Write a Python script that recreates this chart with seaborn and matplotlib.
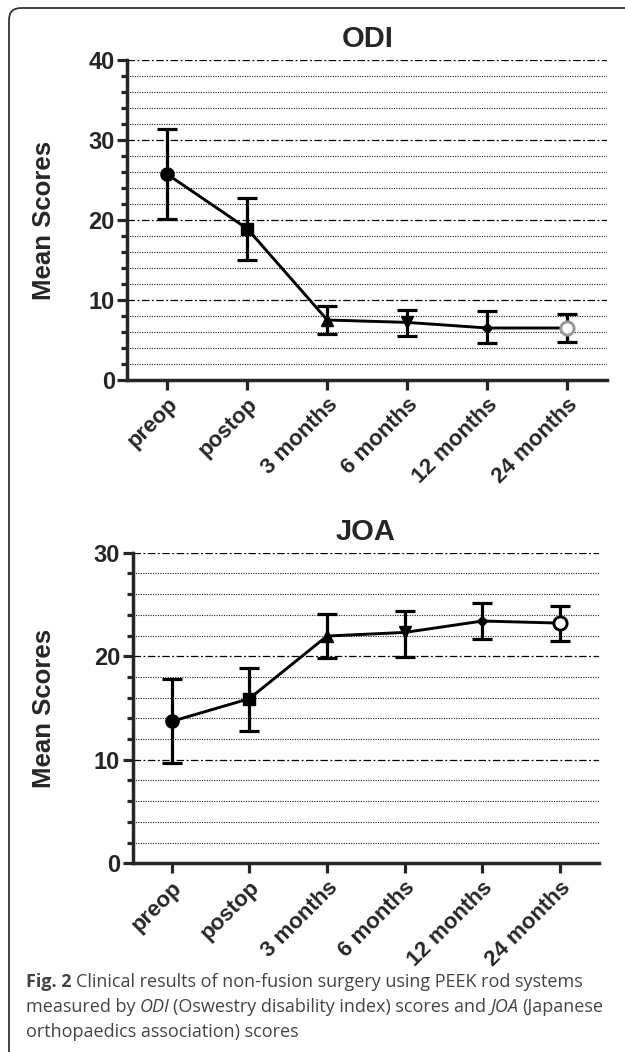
import matplotlib
matplotlib.use("Agg")
import matplotlib.pyplot as plt
from matplotlib.patches import FancyBboxPatch
from matplotlib.transforms import IdentityTransform
from matplotlib.ticker import MultipleLocator
import pandas as pd
import seaborn as sns

TIMEPOINTS = ["preop", "postop", "3 months", "6 months", "12 months", "24 months"]
MARKERS = ["o", "s", "^", "v", "D", "o"]

# mean and error bar ends
ODI_MEAN = [25.7, 18.9, 7.5, 7.2, 6.5, 6.5]
ODI_UPPER = [31.4, 22.8, 9.3, 8.8, 8.6, 8.2]
ODI_LOWER = [20.1, 15.0, 5.8, 5.5, 4.6, 4.8]

JOA_MEAN = [13.7, 15.9, 21.95, 22.3, 23.4, 23.2]
JOA_UPPER = [17.8, 18.9, 24.1, 24.4, 25.1, 24.9]
JOA_LOWER = [9.7, 12.8, 19.8, 19.9, 21.7, 21.5]

W, H = 625, 1052

sns.set_style("ticks")
plt.rcParams["font.family"] = ["Liberation Sans", "DejaVu Sans"]


def draw_panel(ax, title, mean, lower, upper, ymax, last_edge):
    df = pd.DataFrame({"x": range(len(TIMEPOINTS)), "mean": mean,
                       "lower": lower, "upper": upper})
    yerr = [df["mean"] - df["lower"], df["upper"] - df["mean"]]
    ax.errorbar(df["x"], df["mean"], yerr=yerr, fmt="none", ecolor="black",
                elinewidth=2.3, capsize=7.5, capthick=2.3, zorder=3)
    sns.lineplot(data=df, x="x", y="mean", color="black", lw=2.1, ax=ax,
                 zorder=4)
    for i, m in enumerate(MARKERS):
        size = {"o": 9.5, "s": 9, "^": 9, "v": 9, "D": 5}[m]
        if i == len(MARKERS) - 1:
            ax.plot(df["x"][i], df["mean"][i], marker="o", ms=9.5, mfc="white",
                    mec=last_edge, mew=2.1, zorder=5)
        else:
            ax.plot(df["x"][i], df["mean"][i], marker=m, ms=size,
                    color="black", zorder=5)

    ax.set_xlim(-0.5, 5.5)
    ax.set_ylim(0, ymax)
    ax.yaxis.set_major_locator(MultipleLocator(10))
    ax.yaxis.set_minor_locator(MultipleLocator(2))
    ax.set_xticks(range(len(TIMEPOINTS)))
    ax.set_xticklabels(TIMEPOINTS, rotation=45, ha="right",
                       rotation_mode="anchor", fontsize=16, fontweight="bold")
    for lab in ax.get_yticklabels():
        lab.set_fontsize(17)
        lab.set_fontweight("bold")

    ax.grid(which="major", axis="y", color="black", lw=0.9,
            ls=(0, (6, 2, 1.5, 2)))
    ax.grid(which="minor", axis="y", color="#222222", lw=0.8,
            ls=(0, (1, 1.2)))
    ax.set_axisbelow(True)

    sns.despine(ax=ax)
    for s in ("left", "bottom"):
        ax.spines[s].set_linewidth(2.5)
    ax.tick_params(axis="y", which="major", length=7, width=2.3, pad=2)
    ax.tick_params(axis="y", which="minor", length=4.5, width=2.3)
    ax.tick_params(axis="x", length=7, width=2.3, pad=3)

    ax.set_title(title, fontsize=21, fontweight="bold", pad=9)
    ax.set_xlabel("")
    ax.set_ylabel("Mean Scores", fontsize=18.5, fontweight="bold", va="center")


fig = plt.figure(figsize=(W / 100, H / 100), dpi=100)

ax1 = fig.add_axes([127.5 / W, 1 - 380 / H, 479.5 / W, 320 / H])
draw_panel(ax1, "ODI", ODI_MEAN, ODI_LOWER, ODI_UPPER, 40, "#999999")
ax1.yaxis.set_label_coords((44 - 127.5) / 479.5, 0.5)

ax2 = fig.add_axes([132.7 / W, 1 - 863.3 / H, 466.3 / W, 310.6 / H])
draw_panel(ax2, "JOA", JOA_MEAN, JOA_LOWER, JOA_UPPER, 30, "black")
ax2.yaxis.set_label_coords((44 - 132.7) / 466.3, 0.5)

# frame around the figure
frame = FancyBboxPatch((9, -20), 660, H - 8 + 20,
                       boxstyle="round,pad=0,rounding_size=12",
                       transform=IdentityTransform(), fill=False,
                       edgecolor="#333333", lw=1.3)
fig.add_artist(frame)

# caption with mixed bold / italic pieces
CAPTION = [
    [("Fig. 2", "bold", "normal"),
     ("Clinical results of non-fusion surgery using PEEK rod systems", "normal", "normal")],
    [("measured by", "normal", "normal"), ("ODI", "normal", "italic"),
     ("(Oswestry disability index) scores and", "normal", "normal"),
     ("JOA", "normal", "italic"), ("(Japanese", "normal", "normal")],
    [("orthopaedics association) scores", "normal", "normal")],
]
CAP_SIZE = 13.0
renderer = fig.canvas.get_renderer()


def text_width(s, weight="normal", style="normal"):
    t = fig.text(0, 0, s, fontsize=CAP_SIZE, family="Open Sans",
                 fontweight=weight, fontstyle=style)
    w = t.get_window_extent(renderer).width
    t.remove()
    return w


gap = text_width("x x") - text_width("xx")
for row, pieces in enumerate(CAPTION):
    x = 26
    y = H - (987 + 25 * row)
    for s, weight, style in pieces:
        t = fig.text(x, y, s, transform=IdentityTransform(), fontsize=CAP_SIZE,
                     family="Open Sans", fontweight=weight, fontstyle=style,
                     color="#444444", va="baseline")
        # italic boxes come out a little wide, so close up after them
        x += t.get_window_extent(renderer).width + (gap * 0.75 if style == "italic" else gap)

fig.savefig("out.png", dpi=100)
